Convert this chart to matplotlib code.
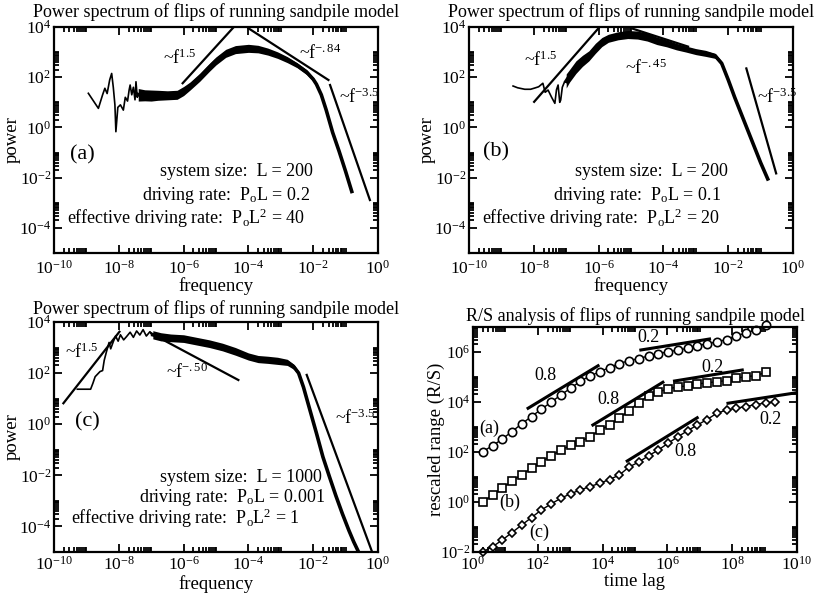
import numpy as np
import matplotlib
matplotlib.use('Agg')
import matplotlib.pyplot as plt
from matplotlib.ticker import FixedLocator, FuncFormatter, NullFormatter

plt.rcParams['font.family'] = ['Liberation Serif', 'DejaVu Serif']
plt.rcParams['mathtext.fontset'] = 'custom'
plt.rcParams['mathtext.rm'] = 'Liberation Serif'
plt.rcParams['mathtext.it'] = 'Liberation Serif:italic'
plt.rcParams['mathtext.bf'] = 'Liberation Serif:bold'
plt.rcParams['axes.unicode_minus'] = False

W, H = 818, 596
TITLE_PS = 'Power spectrum of flips of running sandpile model'
TITLE_RS = 'R/S analysis of flips of running sandpile model'

# ---------------- panel (a)  (log10 frequency, log10 power)
a_noise_f = [-8.94, -8.63, -8.50, -8.43, -8.36, -8.28, -8.22, -8.17, -8.12, -8.09, -8.03, -7.95,
             -7.86, -7.80, -7.73, -7.68, -7.65, -7.60, -7.55, -7.50, -7.47, -7.43, -7.40]
a_noise_p = [1.36, 0.76, 1.30, 1.56, 1.35, 1.90, 2.15, 1.60, 0.90, -0.17, 0.80, 0.90,
             0.69, 1.20, 1.05, 1.50, 1.69, 1.30, 1.60, 1.10, 1.82, 1.20, 1.35]
a_band_f = [-7.40, -7.20, -7.00, -6.80, -6.50, -6.20, -6.00, -5.80, -5.50, -5.20, -5.00, -4.70,
            -4.40, -4.00, -3.70, -3.40, -3.10, -2.80, -2.50, -2.20, -2.00, -1.90, -1.75, -1.60,
            -1.40, -1.20, -1.00, -0.81]
a_band_p = [1.30, 1.28, 1.27, 1.28, 1.28, 1.30, 1.45, 1.65, 2.00, 2.40, 2.65, 2.95,
            3.10, 3.15, 3.12, 3.02, 2.88, 2.70, 2.48, 2.20, 1.92, 1.72, 1.30, 0.70,
            -0.20, -0.95, -1.75, -2.55]
a_band_w = [0.25, 0.22, 0.22, 0.20, 0.18, 0.18, 0.18, 0.16, 0.16, 0.16, 0.16, 0.16,
            0.16, 0.16, 0.15, 0.14, 0.13, 0.12, 0.10, 0.10, 0.08, 0.06, 0.04, 0.03,
            0.03, 0.03, 0.03, 0.03]
a_fits = [((-6.03, 1.76), (-4.45, 4.00)),
          ((-4.00, 3.95), (-1.53, 1.89)),
          ((-1.48, 1.69), (-0.25, -2.89))]
a_fit_labels = ['~f$^{1.5}$', '~f$^{-.84}$', '~f$^{-3.5}$']
a_info = ['system size:  L = 200',
          'driving rate:  P$_\\mathrm{o}$L = 0.2',
          'effective driving rate:  P$_\\mathrm{o}$L$^2$ = 40']

# ---------------- panel (b)
b_noise_f = [-8.64, -8.50, -8.28, -8.10, -7.97, -7.85, -7.72, -7.65, -7.56, -7.45, -7.35, -7.30,
             -7.25, -7.20, -7.17, -7.12, -7.05, -7.00]
b_noise_p = [1.65, 1.58, 1.52, 1.52, 1.57, 1.62, 1.76, 1.40, 1.49, 1.20, 0.96, 1.50,
             1.69, 1.00, 1.09, 1.60, 1.82, 1.80]
b_band_f = [-7.00, -6.90, -6.70, -6.50, -6.30, -6.10, -5.90, -5.70, -5.40, -5.10, -4.80, -4.50,
            -4.20, -3.90, -3.60, -3.30, -3.00, -2.70, -2.40, -2.20, -2.00, -1.80, -1.60, -1.40,
            -1.20, -1.00, -0.78]
b_band_p = [1.85, 2.05, 2.40, 2.65, 2.85, 3.15, 3.40, 3.55, 3.65, 3.70, 3.68, 3.60,
            3.45, 3.35, 3.22, 3.12, 3.02, 2.95, 2.85, 2.55, 1.90, 1.20, 0.55, -0.10,
            -0.75, -1.40, -2.05]
b_band_w = [0.28, 0.25, 0.25, 0.22, 0.20, 0.20, 0.18, 0.16, 0.16, 0.16, 0.16, 0.16,
            0.15, 0.14, 0.13, 0.12, 0.12, 0.12, 0.10, 0.08, 0.05, 0.04, 0.04, 0.04,
            0.04, 0.04, 0.04]
b_fits = [((-7.99, 1.02), (-5.97, 4.00)),
          ((-4.99, 3.95), (-3.24, 3.22)),
          ((-1.44, 2.35), (-0.52, -1.83))]
b_fit_labels = ['~f$^{1.5}$', '~f$^{-.45}$', '~f$^{-3.5}$']
b_info = ['system size:  L = 200',
          'driving rate:  P$_\\mathrm{o}$L = 0.1',
          'effective driving rate:  P$_\\mathrm{o}$L$^2$ = 20']

# ---------------- panel (c)
c_noise_f = [-9.28, -8.87, -8.80, -8.73, -8.58, -8.50, -8.45, -8.38, -8.30, -8.25, -8.17, -8.10,
             -8.02, -7.95, -7.85, -7.76, -7.65, -7.55, -7.45, -7.35, -7.25, -7.15, -7.04, -6.95]
c_noise_p = [1.37, 1.37, 1.60, 1.86, 2.06, 2.10, 2.50, 2.84, 3.20, 2.95, 3.23, 3.45,
             3.25, 3.50, 3.30, 3.43, 3.60, 3.40, 3.65, 3.49, 3.70, 3.45, 3.62, 3.50]
c_band_f = [-6.95, -6.70, -6.40, -6.00, -5.60, -5.20, -4.80, -4.40, -4.00, -3.70, -3.40, -3.10,
            -2.80, -2.60, -2.45, -2.30, -2.10, -1.90, -1.70, -1.50, -1.30, -1.10, -0.90, -0.75,
            -0.60]
c_band_p = [3.50, 3.42, 3.38, 3.35, 3.25, 3.15, 3.02, 2.85, 2.65, 2.55, 2.52, 2.48,
            2.42, 2.25, 2.00, 1.45, 0.55, -0.35, -1.28, -2.05, -2.80, -3.50, -4.15, -4.60,
            -5.00]
c_band_w = [0.16, 0.16, 0.15, 0.15, 0.15, 0.15, 0.15, 0.15, 0.14, 0.14, 0.14, 0.14,
            0.12, 0.10, 0.08, 0.05, 0.04, 0.04, 0.04, 0.04, 0.04, 0.04, 0.04, 0.04,
            0.04]
c_fits = [((-9.71, 0.82), (-7.98, 3.62)),
          ((-7.00, 3.55), (-4.31, 1.73)),
          ((-2.20, 1.93), (-0.19, -4.97))]
c_fit_labels = ['~f$^{1.5}$', '~f$^{-.50}$', '~f$^{-3.5}$']
c_info = ['system size:  L = 1000',
          'driving rate:  P$_\\mathrm{o}$L = 0.001',
          'effective driving rate:  P$_\\mathrm{o}$L$^2$ = 1']

# ---------------- panel (d): R/S, time lag = 2^k
rs_k_a = list(range(1, 31))
rs_a = [2.02, 2.25, 2.52, 2.82, 3.13, 3.42, 3.71, 3.99, 4.28, 4.55, 4.83, 5.04, 5.21, 5.38, 5.54,
        5.65, 5.74, 5.84, 5.93, 6.01, 6.07, 6.15, 6.25, 6.33, 6.40, 6.50, 6.65, 6.76, 6.88, 7.08]
rs_k_b = list(range(1, 31))
rs_b = [0.00, 0.28, 0.56, 0.84, 1.10, 1.35, 1.60, 1.85, 2.07, 2.27, 2.42, 2.62, 2.87, 3.08, 3.35,
        3.66, 3.98, 4.25, 4.40, 4.53, 4.60, 4.65, 4.72, 4.77, 4.81, 4.86, 4.95, 5.02, 5.05, 5.19]
rs_k_c = list(range(1, 32))
rs_c = [-1.99, -1.79, -1.52, -1.22, -0.92, -0.62, -0.32, -0.08, 0.15, 0.33, 0.48, 0.62, 0.75,
        0.90, 1.08, 1.40, 1.60, 1.85, 2.08, 2.35, 2.61, 2.85, 3.08, 3.30, 3.55, 3.68, 3.75, 3.82,
        3.90, 3.96, 4.01]
rs_fits = [((1.70, 3.75), (3.86, 5.45)), ((5.18, 6.08), (7.30, 6.52)),
           ((3.70, 3.08), (5.86, 4.79)), ((6.22, 4.84), (8.31, 5.28)),
           ((4.76, 1.64), (6.92, 3.37)), ((7.87, 3.95), (9.98, 4.37))]
rs_fit_labels = ['0.8', '0.2', '0.8', '0.2', '0.8', '0.2']


def rect(l, t, r, b):
    return [l / W, 1 - b / H, (r - l) / W, (b - t) / H]


def fig_xy(x, y):
    return x / W, 1 - y / H


def decade_fmt(v, pos):
    e = int(round(np.log10(v)))
    return '10$^{%d}$' % e


def style_log_axes(ax, xr, yr, ylsize=12.5, xpad=5):
    ax.set_xscale('log')
    ax.set_yscale('log')
    ax.set_xlim(10.0 ** xr[0], 10.0 ** xr[1])
    ax.set_ylim(10.0 ** yr[0], 10.0 ** yr[1])
    xmaj = [10.0 ** e for e in range(xr[0], xr[1] + 1, 2)]
    ymaj = [10.0 ** e for e in range(yr[0] + (yr[0] % 2), yr[1] + 1, 2)]
    xmin = [m * v for v in xmaj for m in range(2, 11)]
    ymin = [m * v for v in ymaj for m in range(2, 11)]
    ax.xaxis.set_major_locator(FixedLocator(xmaj))
    ax.yaxis.set_major_locator(FixedLocator(ymaj))
    ax.xaxis.set_minor_locator(FixedLocator(xmin))
    ax.yaxis.set_minor_locator(FixedLocator(ymin))
    ax.xaxis.set_major_formatter(FuncFormatter(decade_fmt))
    ax.yaxis.set_major_formatter(FuncFormatter(decade_fmt))
    ax.xaxis.set_minor_formatter(NullFormatter())
    ax.yaxis.set_minor_formatter(NullFormatter())
    ax.tick_params(which='both', direction='in', top=True, right=True, width=1.3)
    ax.tick_params(axis='x', pad=xpad, labelsize=12.5)
    ax.tick_params(axis='y', pad=2, labelsize=ylsize)
    ax.tick_params(which='major', length=6)
    ax.tick_params(which='minor', length=3.5)
    for s in ax.spines.values():
        s.set_linewidth(1.6)


def spectrum(ax, noise_f, noise_p, band_f, band_p, band_w, fits, fit_labels, fit_pos,
             info, info_pos, tag, tag_pos, title_pad, xlab_y, xpad):
    style_log_axes(ax, (-10, 0), (-5, 4), xpad=xpad)
    nf = 10.0 ** np.array(noise_f)
    ax.plot(nf, 10.0 ** np.array(noise_p), color='k', lw=1.2)
    bf = 10.0 ** np.array(band_f)
    bp = np.array(band_p)
    bw = np.array(band_w)
    ax.fill_between(bf, 10.0 ** (bp - bw), 10.0 ** (bp + bw), color='k', lw=0)
    ax.plot(bf, 10.0 ** bp, color='k', lw=2.6)
    for (p0, p1) in fits:
        ax.plot([10.0 ** p0[0], 10.0 ** p1[0]], [10.0 ** p0[1], 10.0 ** p1[1]],
                color='k', lw=1.6)
    for lab, (x, y) in zip(fit_labels, fit_pos):
        fig.text(*fig_xy(x, y), lab, ha='center', va='center', fontsize=13)
    for line, (x, y) in zip(info, info_pos):
        fig.text(*fig_xy(x, y), line, ha='right', va='center', fontsize=13)
    fig.text(*fig_xy(*tag_pos), tag, ha='center', va='center', fontsize=16)
    ax.set_title(TITLE_PS, fontsize=13, pad=title_pad)
    ax.set_xlabel('frequency', fontsize=13.5)
    ax.set_ylabel('power', fontsize=13.5)
    ax.xaxis.set_label_coords(0.5, xlab_y)
    ax.yaxis.set_label_coords(-33 / 324, 0.5)


fig = plt.figure(figsize=(W / 100, H / 100), dpi=100)

ax_a = fig.add_axes(rect(54, 27, 378, 253))
spectrum(ax_a, a_noise_f, a_noise_p, a_band_f, a_band_p, a_band_w, a_fits, a_fit_labels,
         [(180, 58), (320, 53), (359, 97)], a_info, [(313, 171), (310, 195), (305, 218)],
         '(a)', (82, 155), 7, -24 / 226, 5)

ax_b = fig.add_axes(rect(469, 27, 793, 253))
spectrum(ax_b, b_noise_f, b_noise_p, b_band_f, b_band_p, b_band_w, b_fits, b_fit_labels,
         [(541, 60), (646, 68), (777, 97)], b_info, [(728, 171), (721, 195), (720, 218)],
         '(b)', (496, 152), 7, -24 / 226, 5)

ax_c = fig.add_axes(rect(54, 322, 378, 552))
spectrum(ax_c, c_noise_f, c_noise_p, c_band_f, c_band_p, c_band_w, c_fits, c_fit_labels,
         [(82, 352), (187, 372), (355, 418)], c_info, [(322, 477), (325, 497), (300, 518)],
         '(c)', (87, 422), 6, -23 / 230, 3)

# ---------------- R/S panel
ax_d = fig.add_axes(rect(473, 327, 797, 552))
style_log_axes(ax_d, (0, 10), (-2, 7), ylsize=12, xpad=3)
for ks, vals, mk, ms in [(rs_k_a, rs_a, 'o', 6), (rs_k_b, rs_b, 's', 5.5), (rs_k_c, rs_c, 'D', 4.2)]:
    ax_d.plot(2.0 ** np.array(ks), 10.0 ** np.array(vals), color='k', lw=1.0, marker=mk,
              ms=ms, mfc='white', mec='k', mew=1.2, clip_on=False)
for (p0, p1) in rs_fits:
    ax_d.plot([10.0 ** p0[0], 10.0 ** p1[0]], [10.0 ** p0[1], 10.0 ** p1[1]], color='k', lw=2.2)
for lab, (x, y) in zip(rs_fit_labels, [(545, 375), (648, 338), (608, 400), (713, 367),
                                       (685, 452), (770, 420)]):
    fig.text(*fig_xy(x, y), lab, ha='center', va='center', fontsize=13)
for lab, (x, y) in zip(['(a)', '(b)', '(c)'], [(489, 428), (510, 502), (539, 532)]):
    fig.text(*fig_xy(x, y), lab, ha='center', va='center', fontsize=13)
ax_d.set_title(TITLE_RS, fontsize=13, pad=4)
ax_d.set_xlabel('time lag', fontsize=13.5)
ax_d.set_ylabel('rescaled range (R/S)', fontsize=13.5)
ax_d.xaxis.set_label_coords(0.5, -21 / 225)
ax_d.yaxis.set_label_coords(-28 / 324, 0.5)

fig.savefig('out.png', dpi=100)
